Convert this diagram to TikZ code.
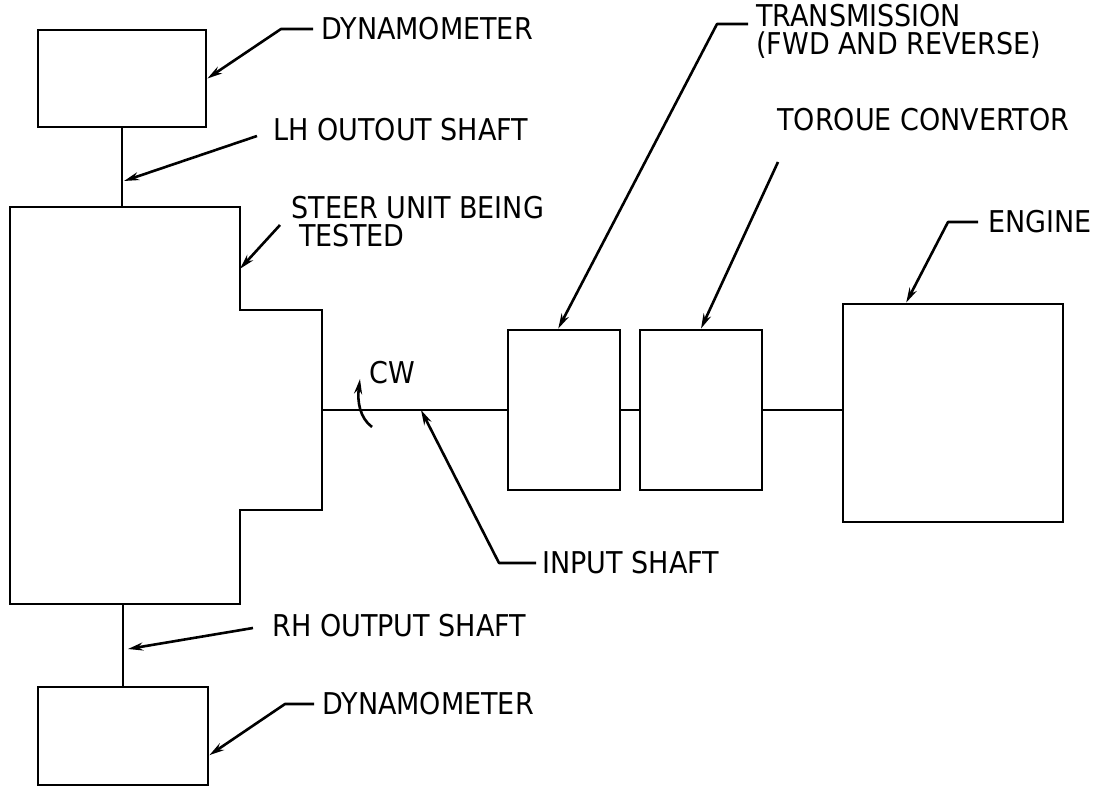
\documentclass[tikz,border=0pt]{standalone}
\usepackage{fontspec}
\setmainfont{DejaVu Sans Condensed}
\usetikzlibrary{arrows.meta,calc}
\tikzset{
unit/.style={draw, line width=1.4pt, inner sep=0pt, shape=rectangle},
tag/.style={inner sep=0pt, anchor=west, align=left, font=\fontsize{15}{14}\selectfont},
leader/.style={line width=1.3pt, line join=round, -{Stealth[length=7.5pt,width=4pt]}},
shaft/.style={line width=1.1pt},
}

\begin{document}
\begin{tikzpicture}[x=0.5pt,y=-0.5pt]
\useasboundingbox (0,0) rectangle (1094,787);
% boxes
\node[unit, minimum width=84pt, minimum height=48.5pt] (dynoL) at (122,78.5) {};
\node[unit, minimum width=85pt, minimum height=49pt] (dynoR) at (123,736) {};
\node[unit, minimum width=56pt, minimum height=80pt] (trans) at (564,410) {};
\node[unit, minimum width=61pt, minimum height=80pt] (torque) at (701,410) {};
\node[unit, minimum width=110pt, minimum height=109pt] (engine) at (953,413) {};

% steer unit outline
\coordinate (s1) at (10,207);
\coordinate (s2) at (240,207);
\coordinate (s3) at (240,310);
\coordinate (s4) at (322,310);
\coordinate (s5) at (322,510);
\coordinate (s6) at (240,510);
\coordinate (s7) at (240,604);
\coordinate (s8) at (10,604);
\draw[unit] (s1) -- (s2) -- (s3) -- (s4) -- (s5) -- (s6) -- (s7) -- (s8) -- cycle;

% shafts
\draw[shaft] (dynoL.south) -- (dynoL.south |- s1);
\draw[shaft] (dynoR.north |- s8) -- (dynoR.north);
\draw[shaft] (s4 |- trans.west) -- (trans.west);
\draw[shaft] (trans.east) -- (torque.west);
\draw[shaft] (torque.east) -- (torque.east -| engine.west);

% labels
\node[tag] (dynoLtxt) at (321,29) {DYNAMOMETER};
\node[tag] (lhtxt) at (273,130) {LH OUTOUT SHAFT};
\node[tag] (steertxt) at (291,222) {STEER UNIT BEING\\\hspace{4pt}TESTED};
\node[tag] (cwtxt) at (369,373) {CW};
\node[tag] (inptxt) at (542,563) {INPUT SHAFT};
\node[tag] (rhtxt) at (272,626) {RH OUTPUT SHAFT};
\node[tag] (dynoRtxt) at (322,704) {DYNAMOMETER};
\node[tag] (transtxt) at (756,31) {TRANSMISSION\\(FWD AND REVERSE)};
\node[tag] (torqtxt) at (777,120) {TOROUE CONVERTOR};
\node[tag] (engtxt) at (988,222) {ENGINE};

% leader ends
\coordinate (lhfrom) at (257,136);
\coordinate (lhend) at (124,181);
\coordinate (steerfrom) at (280,225);
\coordinate (inpend) at (421,410);
\coordinate (rhfrom) at (253,628);
\coordinate (rhend) at (128,649);
\coordinate (transfrom) at (748,24);
\coordinate (torqfrom) at (778,162);

% leaders
\draw[leader] ([xshift=-4pt]dynoLtxt.west) -- ++(-32,0) -- (dynoL.east);
\draw[leader] (lhfrom) -- (lhend);
\draw[leader] (steerfrom) -- ($(s2)!0.6!(s3)$);
\draw[leader] ([xshift=-3pt]inptxt.west) -- ++(-37,0) -- (inpend);
\draw[leader] (rhfrom) -- (rhend);
\draw[leader] ([xshift=-4pt]dynoRtxt.west) -- ++(-29,0) -- ($(dynoR.north east)!0.69!(dynoR.south east)$);
\draw[leader] (transfrom) -- ++(-31,0) -- ($(trans.north west)!0.45!(trans.north east)$);
\draw[leader] (torqfrom) -- (torque.north);
\draw[leader] ([xshift=-5pt]engtxt.west) -- ++(-30,0) -- ($(engine.north west)!0.29!(engine.north east)$);

% rotation sense
\draw[leader] (372,427) .. controls (360,418) and (357,402) .. (360,379);
\end{tikzpicture}
\end{document}
